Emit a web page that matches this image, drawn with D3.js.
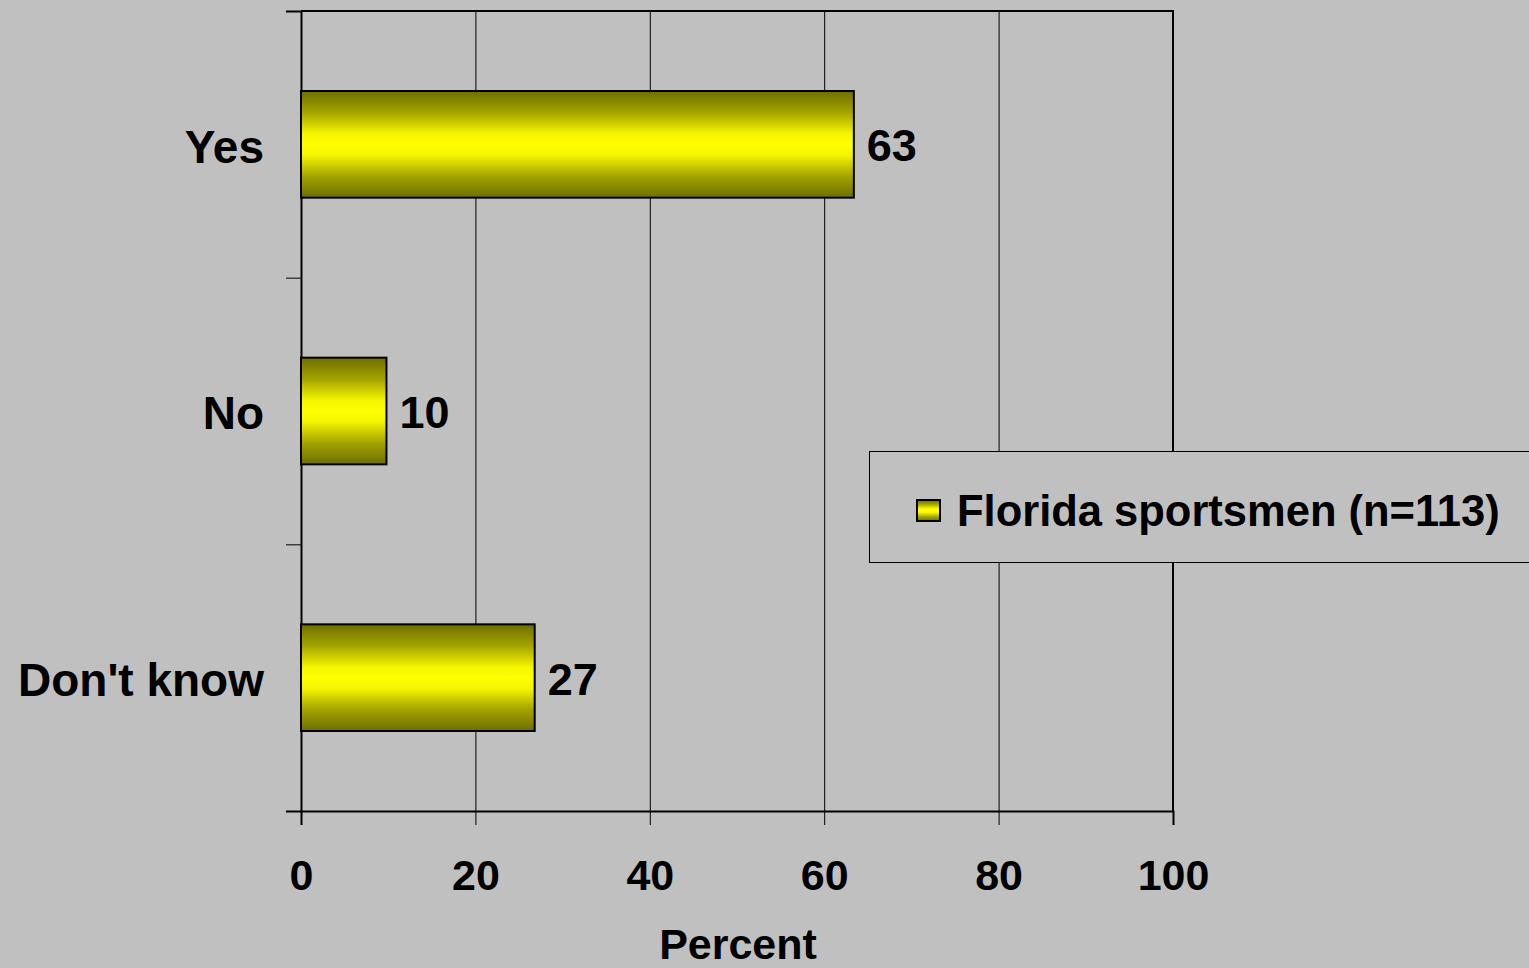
<!DOCTYPE html>
<html>
<head>
<meta charset="utf-8">
<script src="https://cdn.jsdelivr.net/npm/d3@7"></script>
<style>
  html, body { margin: 0; padding: 0; background: #c0c0c0; }
  svg { display: block; font-family: "Liberation Sans", Arial, sans-serif; font-weight: bold; }
</style>
</head>
<body>
<div id="chart"></div>
<script>
// chart values
const categories = ["Yes", "No", "Don't know"];
const percents = [63.4, 9.8, 26.8];
const xTicks = [0, 20, 40, 60, 80, 100];
const seriesName = "Florida sportsmen (n=113)";
const axisTitle = "Percent";

const W = 1529, H = 968;
const margin = { top: 11, left: 301, right: 356, bottom: 157 };
const plotW = W - margin.left - margin.right;
const plotH = H - margin.top - margin.bottom;

const svg = d3.select('#chart').append('svg')
    .attr('width', W).attr('height', H);

svg.append('rect').attr('width', W).attr('height', H).attr('fill', '#c0c0c0');

// bar gradient
const defs = svg.append('defs');
const grad = defs.append('linearGradient').attr('id', 'barGrad')
    .attr('x1', 0).attr('y1', 0).attr('x2', 0).attr('y2', 1);
[[0, '#6e6e00'], [0.2, '#a3a300'], [0.4, '#f5f500'], [0.5, '#ffff00'],
 [0.6, '#f5f500'], [0.8, '#a3a300'], [1, '#6e6e00']]
    .forEach(s => grad.append('stop').attr('offset', s[0]).attr('stop-color', s[1]));

const g = svg.append('g').attr('transform', `translate(${margin.left},${margin.top})`);

const x = d3.scaleLinear().domain([0, 100]).range([0, plotW]);
const y = d3.scaleBand().domain(categories).range([0, plotH])
    .paddingInner(0.6).paddingOuter(0.3);
const yEdges = d3.scaleLinear().domain([0, categories.length]).range([plotH, 0]);

// gridlines
g.append('g')
    .call(d3.axisBottom(x).tickValues(xTicks.slice(1, -1)).tickSize(plotH).tickFormat(''))
    .call(a => a.select('.domain').remove())
    .selectAll('line').attr('stroke', '#000').attr('stroke-width', 1);

// frame top/right
g.append('path')
    .attr('d', `M0,0H${plotW}V${plotH}`)
    .attr('fill', 'none').attr('stroke', '#000').attr('stroke-width', 2);

// x axis
const xAxis = g.append('g').attr('transform', `translate(0,${plotH})`)
    .call(d3.axisBottom(x).tickValues(xTicks).tickSize(14).tickPadding(34));
xAxis.select('.domain').attr('stroke', '#000').attr('stroke-width', 2);
xAxis.selectAll('line').attr('stroke', '#000').attr('stroke-width', 1);
xAxis.selectAll('text').attr('font-size', 43).attr('font-weight', 'bold')
    .attr('fill', '#000').attr('font-family', '"Liberation Sans", Arial, sans-serif');

// y axis edges
const yAxis = g.append('g')
    .call(d3.axisLeft(yEdges).tickValues(d3.range(categories.length + 1)).tickSize(15).tickFormat(''));
yAxis.select('.domain').attr('stroke', '#000').attr('stroke-width', 2);
yAxis.selectAll('line').attr('stroke', '#000').attr('stroke-width', 1);

// category labels
const yLab = g.append('g')
    .call(d3.axisLeft(y).tickSize(0).tickPadding(37));
yLab.select('.domain').remove();
yLab.selectAll('text').attr('font-size', 46).attr('font-weight', 'bold')
    .attr('fill', '#000').attr('font-family', '"Liberation Sans", Arial, sans-serif')
    .attr('dy', '0.4em');

// bars
const data = categories.map((c, i) => ({ cat: c, v: percents[i] }));
g.selectAll('.bar').data(data).enter().append('rect')
    .attr('class', 'bar')
    .attr('x', x(0)).attr('y', d => y(d.cat))
    .attr('width', d => x(d.v) - x(0)).attr('height', y.bandwidth())
    .attr('fill', 'url(#barGrad)').attr('stroke', '#000').attr('stroke-width', 2);

g.selectAll('.val').data(data).enter().append('text')
    .attr('class', 'val')
    .attr('x', d => x(d.v) + 13)
    .attr('y', d => y(d.cat) + y.bandwidth() / 2)
    .attr('dy', '0.38em')
    .attr('font-size', 45).attr('fill', '#000')
    .text(d => d3.format('.0f')(d.v));

// axis title
svg.append('text')
    .attr('x', margin.left + x(50) + 1)
    .attr('y', 959)
    .attr('text-anchor', 'middle')
    .attr('font-size', 43).attr('fill', '#000')
    .text(axisTitle);

// legend
const leg = svg.append('g').attr('transform', 'translate(869,451)');
leg.append('rect').attr('x', 0.5).attr('y', 0.5).attr('width', 720).attr('height', 111)
    .attr('fill', '#c0c0c0').attr('stroke', '#000').attr('stroke-width', 1);
leg.append('rect').attr('x', 48).attr('y', 49).attr('width', 23).attr('height', 21)
    .attr('fill', 'url(#barGrad)').attr('stroke', '#000').attr('stroke-width', 2);
leg.append('text').attr('x', 88).attr('y', 59).attr('dy', '0.36em')
    .attr('font-size', 43.5).attr('fill', '#000')
    .text(seriesName);
</script>
</body>
</html>
